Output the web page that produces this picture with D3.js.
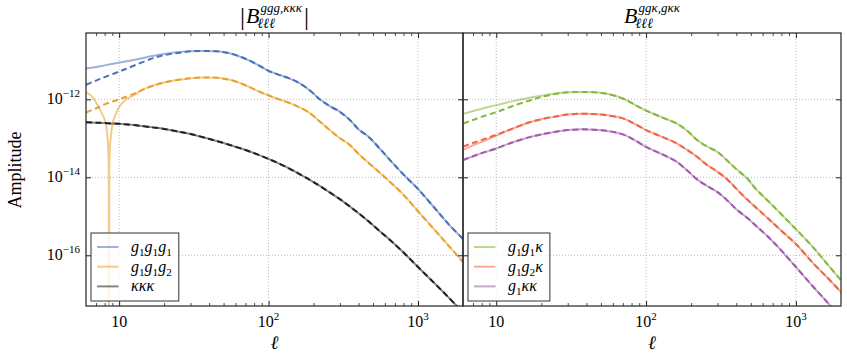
<!DOCTYPE html>
<html>
<head>
<meta charset="utf-8">
<script src="https://cdn.jsdelivr.net/npm/d3@7"></script>
<style>
  body { margin: 0; background: #fff; }
  svg text { font-family: 'Liberation Serif', 'Times New Roman', Times, 'DejaVu Serif', 'Noto Serif', serif; fill: #000; }
</style>
</head>
<body>
<svg id="chart" width="847" height="360"></svg>
<script>
// multipole grid shared by most curves
const ellGrid = [6, 7, 8, 10, 12.5, 16.7, 20, 25, 30, 37, 45, 55, 70, 85, 100, 115, 135, 160, 190, 220, 255, 300, 350, 400, 470, 550, 650, 800, 1000, 1300, 1600, 2000];

// log10 of amplitude, left panel
const logG1G1G1 = [-11.21, -11.17, -11.13, -11.06, -10.99, -10.89, -10.84, -10.79, -10.77, -10.76, -10.77, -10.82, -10.96, -11.12, -11.27, -11.36, -11.45, -11.58, -11.78, -12.00, -12.17, -12.32, -12.53, -12.77, -12.97, -13.25, -13.56, -13.93, -14.30, -14.80, -15.20, -15.58];
const logKKK = [-12.59, -12.60, -12.61, -12.63, -12.66, -12.72, -12.76, -12.83, -12.89, -12.98, -13.07, -13.17, -13.30, -13.42, -13.53, -13.63, -13.76, -13.91, -14.07, -14.22, -14.38, -14.56, -14.75, -14.92, -15.14, -15.37, -15.61, -15.93, -16.30, -16.73, -17.08, -17.46];

// g1g1g2 changes sign near ell ~ 8.5, so it has its own grid
const ellG1G1G2 = [6, 6.7, 7.25, 7.7, 8.05, 8.3, 8.45, 8.52, 8.555, 8.59, 8.66, 8.8, 9.05, 9.4, 10, 11, 12.5, 14.3, 16.7, 20, 25, 30, 37, 45, 55, 70, 85, 100, 115, 135, 160, 190, 220, 255, 300, 350, 400, 470, 550, 650, 800, 1000, 1300, 1600, 2000];
const logG1G1G2 = [-11.81, -11.97, -12.18, -12.38, -12.56, -12.85, -13.3, -13.9, -18.0, -13.9, -13.3, -12.95, -12.62, -12.42, -12.2, -12.02, -11.9, -11.76, -11.65, -11.57, -11.50, -11.46, -11.44, -11.45, -11.50, -11.64, -11.79, -11.90, -11.99, -12.08, -12.20, -12.36, -12.57, -12.78, -13.00, -13.17, -13.40, -13.64, -13.87, -14.12, -14.45, -14.87, -15.36, -15.75, -16.17];

// log10 of amplitude, right panel
const logG1G1K = [-12.38, -12.30, -12.24, -12.15, -12.06, -11.96, -11.91, -11.85, -11.82, -11.81, -11.82, -11.86, -11.98, -12.15, -12.29, -12.39, -12.50, -12.62, -12.82, -13.05, -13.21, -13.35, -13.58, -13.79, -14.02, -14.33, -14.60, -14.95, -15.33, -15.79, -16.20, -16.64];
const logG1G2K = [-13.29, -13.18, -13.09, -12.93, -12.77, -12.59, -12.51, -12.44, -12.39, -12.37, -12.38, -12.41, -12.49, -12.64, -12.79, -12.89, -13.00, -13.13, -13.31, -13.48, -13.68, -13.86, -14.06, -14.29, -14.56, -14.80, -15.05, -15.37, -15.71, -16.20, -16.55, -16.94];
const logG1KK = [-13.56, -13.46, -13.38, -13.26, -13.12, -12.97, -12.90, -12.83, -12.79, -12.77, -12.78, -12.81, -12.90, -13.06, -13.22, -13.33, -13.45, -13.60, -13.84, -14.06, -14.22, -14.38, -14.60, -14.82, -15.03, -15.27, -15.52, -15.88, -16.30, -16.80, -17.18, -17.60];

// dashed curves: only the low-ell part differs, above that they follow the solid one
const ellDashG1G1G1 = [6, 7, 8, 10, 12.5, 16.7, 20, 25];
const logDashG1G1G1 = [-11.63, -11.52, -11.43, -11.29, -11.14, -10.95, -10.87, -10.81];
const ellDashG1G1G2 = [6, 7, 8, 10, 12.5, 14.3, 16.7];
const logDashG1G1G2 = [-12.34, -12.23, -12.13, -12.0, -11.86, -11.76, -11.66];
const ellDashG1G1K = [6, 7, 8, 10, 12.5, 16.7, 20, 25];
const logDashG1G1K = [-12.62, -12.53, -12.45, -12.33, -12.19, -12.03, -11.94, -11.86];
const ellDashG1G2K = [6, 7, 8, 10, 12.5];
const logDashG1G2K = [-13.21, -13.12, -13.04, -12.91, -12.77];

const xMajor = [10, 100, 1000];
const xMinor = [7, 8, 9, 20, 30, 40, 50, 60, 70, 80, 90, 200, 300, 400, 500, 600, 700, 800, 900];
const yMajor = [-12, -14, -16];

const plotTop = 33, plotBottom = 306;
const svg = d3.select("#chart");

const y = d3.scaleLog()
  .domain([Math.pow(10, -17.3), Math.pow(10, -10.3)])
  .range([plotBottom, plotTop]);

function mathText(sel, str, size) {
  // letters italic, "_x" puts x as an upright subscript
  let down = false;
  for (let i = 0; i < str.length; i++) {
    const c = str[i];
    if (c === "_") {
      sel.append("tspan").text(str[i + 1])
        .attr("font-style", "normal")
        .attr("font-size", size * 0.7)
        .attr("dy", 4);
      down = true;
      i++;
    } else {
      sel.append("tspan").text(c)
        .attr("font-style", "italic")
        .attr("font-size", size)
        .attr("dy", down ? -4 : 0);
      down = false;
    }
  }
}

function drawTitle(cx, pre, sup, sub, post) {
  const g = svg.append("g");
  const base = 23;
  let w = 0;
  if (pre) {
    const t = g.append("text").attr("x", 0).attr("y", base + 2).attr("font-size", 25).text(pre);
    w = t.node().getComputedTextLength() + 1;
  }
  const b = g.append("text").attr("x", w).attr("y", base)
    .attr("font-size", 22).attr("font-style", "italic").text("B");
  w += b.node().getComputedTextLength();
  const supT = g.append("text").attr("x", w + 1).attr("y", base - 11)
    .attr("font-size", 13).attr("font-style", "italic").text(sup);
  const subT = g.append("text").attr("x", w - 2).attr("y", base + 5)
    .attr("font-size", 14).attr("font-style", "italic").text(sub);
  let total = Math.max(w + 1 + supT.node().getComputedTextLength(), w - 2 + subT.node().getComputedTextLength());
  if (post) {
    const t = g.append("text").attr("x", total + 2).attr("y", base + 2).attr("font-size", 25).text(post);
    total += 2 + t.node().getComputedTextLength();
  }
  g.attr("transform", `translate(${cx - total / 2},0)`);
}

function drawPanel(x0, x1, series, clipId, showYLabels) {
  const x = d3.scaleLog().domain([6, 2000]).range([x0, x1]);
  const g = svg.append("g");

  svg.append("clipPath").attr("id", clipId)
    .append("rect")
    .attr("x", x0).attr("y", plotTop)
    .attr("width", x1 - x0).attr("height", plotBottom - plotTop);

  // dotted grid
  g.selectAll(".gx").data(xMajor).enter().append("line")
    .attr("x1", d => x(d)).attr("x2", d => x(d))
    .attr("y1", plotTop).attr("y2", plotBottom)
    .attr("stroke", "#b3b3b3").attr("stroke-width", 0.9)
    .attr("stroke-dasharray", "1,2");
  g.selectAll(".gy").data(yMajor).enter().append("line")
    .attr("x1", x0).attr("x2", x1)
    .attr("y1", d => y(Math.pow(10, d))).attr("y2", d => y(Math.pow(10, d)))
    .attr("stroke", "#b3b3b3").attr("stroke-width", 0.9)
    .attr("stroke-dasharray", "1,2");

  const line = c => d3.line()
    .x(d => x(d[0]))
    .y(d => y(Math.pow(10, d[1])))
    .curve(c);
  const smooth = d3.curveCatmullRom.alpha(0.5);

  const curves = g.append("g").attr("clip-path", `url(#${clipId})`);

  series.forEach(s => {
    const pts = s.ell.map((e, i) => [e, s.amp[i]]);
    curves.append("path")
      .attr("d", line(s.monotone ? d3.curveMonotoneX : smooth)(pts))
      .attr("fill", "none")
      .attr("stroke", s.color)
      .attr("stroke-width", 2)
      .attr("stroke-opacity", 0.55);
  });

  series.forEach(s => {
    let pts = s.dashEll.map((e, i) => [e, s.dashAmp[i]]);
    const last = s.dashEll.length ? s.dashEll[s.dashEll.length - 1] : 0;
    s.ell.forEach((e, i) => { if (e > last) pts.push([e, s.amp[i]]); });
    curves.append("path")
      .attr("d", line(smooth)(pts))
      .attr("fill", "none")
      .attr("stroke", s.color)
      .attr("stroke-width", 2)
      .attr("stroke-dasharray", "6,3.5");
  });

  // ticks on all four sides, pointing in
  const tickCol = "#222";
  const axes = [
    [d3.axisBottom(x), `translate(0,${plotBottom})`],
    [d3.axisTop(x), `translate(0,${plotTop})`]
  ];
  axes.forEach(a => {
    g.append("g").attr("transform", a[1])
      .call(a[0].tickValues(xMajor).tickSize(-5).tickSizeOuter(0).tickFormat(""))
      .call(s => s.select(".domain").remove())
      .call(s => s.selectAll("line").attr("stroke", tickCol).attr("stroke-width", 1));
    g.append("g").attr("transform", a[1])
      .call(a[0].tickValues(xMinor).tickSize(-3).tickSizeOuter(0).tickFormat(""))
      .call(s => s.select(".domain").remove())
      .call(s => s.selectAll("line").attr("stroke", tickCol).attr("stroke-width", 0.8));
  });
  const yTicks = yMajor.map(d => Math.pow(10, d));
  g.append("g").attr("transform", `translate(${x0},0)`)
    .call(d3.axisLeft(y).tickValues(yTicks).tickSize(-5).tickSizeOuter(0).tickFormat(""))
    .call(s => s.select(".domain").remove())
    .call(s => s.selectAll("line").attr("stroke", tickCol).attr("stroke-width", 1));
  g.append("g").attr("transform", `translate(${x1},0)`)
    .call(d3.axisRight(y).tickValues(yTicks).tickSize(-5).tickSizeOuter(0).tickFormat(""))
    .call(s => s.select(".domain").remove())
    .call(s => s.selectAll("line").attr("stroke", tickCol).attr("stroke-width", 1));

  // spines
  g.append("rect")
    .attr("x", x0).attr("y", plotTop)
    .attr("width", x1 - x0).attr("height", plotBottom - plotTop)
    .attr("fill", "none").attr("stroke", "#222").attr("stroke-width", 1.2);

  // x tick labels
  xMajor.forEach(d => {
    const t = g.append("text")
      .attr("x", x(d)).attr("y", plotBottom + 21)
      .attr("text-anchor", "middle")
      .attr("font-size", 16);
    const p = Math.round(Math.log10(d));
    t.append("tspan").text("10");
    if (p > 1) t.append("tspan").text(p).attr("font-size", 11).attr("dy", -7);
  });

  if (showYLabels) {
    yMajor.forEach(d => {
      const t = g.append("text")
        .attr("x", x0 - 6).attr("y", y(Math.pow(10, d)) + 5)
        .attr("text-anchor", "end")
        .attr("font-size", 16);
      t.append("tspan").text("10");
      t.append("tspan").text("\u2212" + Math.abs(d)).attr("font-size", 11).attr("dy", -7);
    });
  }

  g.append("text")
    .attr("x", (x0 + x1) / 2).attr("y", plotBottom + 43)
    .attr("text-anchor", "middle")
    .attr("font-size", 19).attr("font-style", "italic")
    .text("\u2113");

  // legend
  const leg = g.append("g");
  const lx = x0 + 5, ly = 233, rowH = 19.7;
  const box = leg.append("rect")
    .attr("x", lx).attr("y", ly)
    .attr("height", 68)
    .attr("fill", "#fff").attr("fill-opacity", 0.8)
    .attr("stroke", "#444").attr("stroke-width", 1.1);
  let maxW = 0;
  series.forEach((s, i) => {
    const cy = ly + 14 + i * rowH;
    leg.append("line")
      .attr("x1", lx + 6).attr("x2", lx + 27.5)
      .attr("y1", cy).attr("y2", cy)
      .attr("stroke", s.color).attr("stroke-opacity", 0.55).attr("stroke-width", 2);
    const t = leg.append("text").attr("x", lx + 40).attr("y", cy + 5);
    mathText(t, s.label, 16);
    maxW = Math.max(maxW, t.node().getComputedTextLength());
  });
  box.attr("width", 40 + maxW + 7);
}

const blue = "#4a72b8", orange = "#e9a02c", black = "#222222";
const green = "#87b73e", red = "#ef6441", purple = "#a25aad";

drawPanel(86, 463, [
  { ell: ellGrid, amp: logG1G1G1, dashEll: ellDashG1G1G1, dashAmp: logDashG1G1G1, color: blue, label: "g_1g_1g_1" },
  { ell: ellG1G1G2, amp: logG1G1G2, dashEll: ellDashG1G1G2, dashAmp: logDashG1G1G2, color: orange, label: "g_1g_1g_2", monotone: true },
  { ell: ellGrid, amp: logKKK, dashEll: [], dashAmp: [], color: black, label: "\u03ba\u03ba\u03ba" }
], "clipL", true);

drawPanel(463, 841, [
  { ell: ellGrid, amp: logG1G1K, dashEll: ellDashG1G1K, dashAmp: logDashG1G1K, color: green, label: "g_1g_1\u03ba" },
  { ell: ellGrid, amp: logG1G2K, dashEll: ellDashG1G2K, dashAmp: logDashG1G2K, color: red, label: "g_1g_2\u03ba" },
  { ell: ellGrid, amp: logG1KK, dashEll: [], dashAmp: [], color: purple, label: "g_1\u03ba\u03ba" }
], "clipR", false);

drawTitle(274.5, "|", "ggg,\u03ba\u03ba\u03ba", "\u2113\u2113\u2113", "|");
drawTitle(652, null, "gg\u03ba,g\u03ba\u03ba", "\u2113\u2113\u2113", null);

svg.append("text")
  .attr("transform", "translate(21,170) rotate(-90)")
  .attr("text-anchor", "middle")
  .attr("font-size", 18)
  .text("Amplitude");
</script>
</body>
</html>
